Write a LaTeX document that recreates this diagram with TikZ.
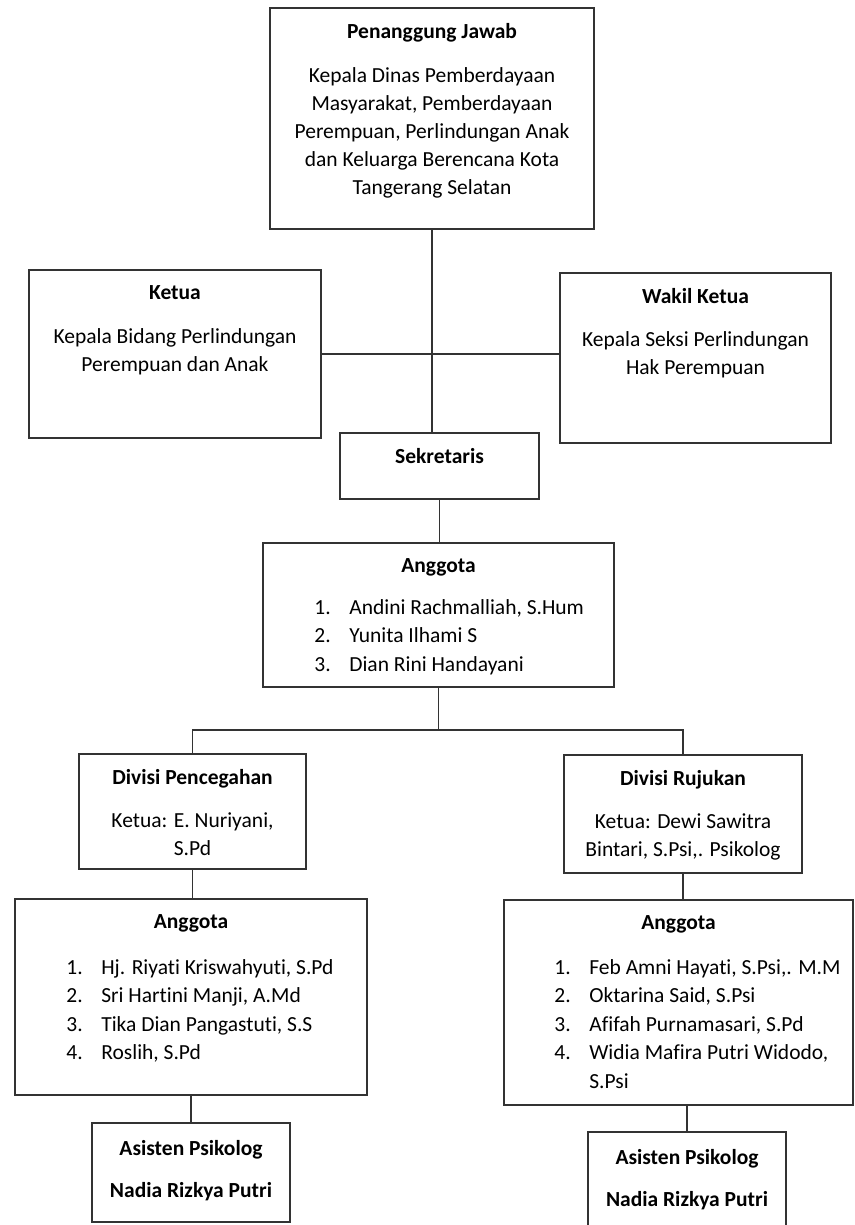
\documentclass[tikz,border=0pt]{standalone}
\usepackage{fontspec}
\setmainfont{Carlito}[Ligatures=CommonOff]
\usetikzlibrary{positioning}
\definecolor{linegray}{HTML}{333333}
\begin{document}
\begin{tikzpicture}[x=1pt,y=-1pt]
  \tikzstyle{box}=[draw=linegray,line width=1.7pt,inner sep=0pt]
  \tikzstyle{txt}=[inner sep=0pt,align=center,font=\fontsize{21.5}{28}\selectfont]
  \tikzstyle{lst}=[inner sep=0pt,align=left,font=\fontsize{21.5}{28.5}\selectfont]
  \tikzstyle{link}=[draw=linegray,line width=1.7pt]
  \useasboundingbox (0,0) rectangle (854,1225);
  % pimpinan
  \node[box,minimum width=324pt,minimum height=221pt] (pj) at (432,118.5) {};
  \node[txt,below=16pt of pj.north] (pjtxt) {\textbf{Penanggung Jawab}\\[16pt]Kepala Dinas Pemberdayaan\\Masyarakat, Pemberdayaan\\Perempuan, Perlindungan Anak\\dan Keluarga Berencana Kota\\Tangerang Selatan};
  \node[box,minimum width=292pt,minimum height=168pt] (ketua) at (175,354) {};
  \node[txt,below=16pt of ketua.north] (ketuatxt) {\textbf{Ketua}\\[16pt]Kepala Bidang Perlindungan\\Perempuan dan Anak};
  \node[box,minimum width=271pt,minimum height=170pt] (wakil) at (695.5,358) {};
  \node[txt,below=16pt of wakil.north] (wakiltxt) {\textbf{Wakil Ketua}\\[15pt]Kepala Seksi Perlindungan\\Hak Perempuan};
  \node[box,minimum width=199pt,minimum height=66pt] (sek) at (439.5,466) {};
  \node[txt,below=16pt of sek.north] (sektxt) {\textbf{Sekretaris}};
  \node[box,minimum width=351pt,minimum height=144pt] (ang) at (438.5,615) {};
  \node[txt,below=16pt of ang.north] (angtxt) {\textbf{Anggota}};
  \node[lst,anchor=north west] (anglist) at ([xshift=52pt,yshift=-57pt]ang.north west)
    {\makebox[35pt][l]{1.}Andini Rachmalliah, S.Hum\\\makebox[35pt][l]{2.}Yunita Ilhami S\\\makebox[35pt][l]{3.}Dian Rini Handayani};
  % divisi pencegahan
  \node[box,minimum width=227pt,minimum height=115pt] (divp) at (192.5,811.5) {};
  \node[txt,below=16pt of divp.north] (divptxt) {\textbf{Divisi Pencegahan}\\[15pt]Ketua: E. Nuriyani,\\S.Pd};
  \node[box,minimum width=352pt,minimum height=196pt] (angp) at (191,997) {};
  \node[txt,below=16pt of angp.north] (angptxt) {\textbf{Anggota}};
  \node[lst,anchor=north west] (angplist) at ([xshift=52pt,yshift=-61pt]angp.north west)
    {\makebox[35pt][l]{1.}Hj. Riyati Kriswahyuti, S.Pd\\\makebox[35pt][l]{2.}Sri Hartini Manji, A.Md\\\makebox[35pt][l]{3.}Tika Dian Pangastuti, S.S\\\makebox[35pt][l]{4.}Roslih, S.Pd};
  \node[box,minimum width=198pt,minimum height=99pt] (asp) at (191,1172.5) {};
  \node[txt,below=18pt of asp.north] (asptxt) {\textbf{Asisten Psikolog}\\[14pt]\textbf{Nadia Rizkya Putri}};
  % divisi rujukan
  \node[box,minimum width=238pt,minimum height=118pt] (divr) at (683,814) {};
  \node[txt,below=16pt of divr.north] (divrtxt) {\textbf{Divisi Rujukan}\\[15pt]Ketua: Dewi Sawitra\\Bintari, S.Psi,. Psikolog};
  \node[box,minimum width=349pt,minimum height=205pt] (angr) at (678.5,1002.5) {};
  \node[txt,below=16pt of angr.north] (angrtxt) {\textbf{Anggota}};
  \node[lst,anchor=north west] (angrlist) at ([xshift=51pt,yshift=-60pt]angr.north west)
    {\makebox[35pt][l]{1.}Feb Amni Hayati, S.Psi,. M.M\\\makebox[35pt][l]{2.}Oktarina Said, S.Psi\\\makebox[35pt][l]{3.}Afifah Purnamasari, S.Pd\\\makebox[35pt][l]{4.}Widia Mafira Putri Widodo,\\\hspace*{35pt}S.Psi};
  \node[box,minimum width=198pt,minimum height=100pt] (asr) at (687,1182) {};
  \node[txt,below=18pt of asr.north] (asrtxt) {\textbf{Asisten Psikolog}\\[14pt]\textbf{Nadia Rizkya Putri}};
  % garis
  \draw[link] (pj.south) -- (pj.south |- sek.north);
  \draw[link] (ketua.east) -- (ketua.east -| wakil.west);
  \draw[link] (sek.south) -- (sek.south |- ang.north);
  \draw[link] (ang.south) -- ++(0,42) coordinate (bus) -| (divp.north);
  \draw[link] (bus) -| (divr.north);
  \draw[link] (divp.south) -- (divp.south |- angp.north);
  \draw[link] (divr.south) -- (divr.south |- angr.north);
  \draw[link] (angp.south) -- (angp.south |- asp.north);
  \draw[link] (asr.north |- angr.south) -- (asr.north);
\end{tikzpicture}
\end{document}
